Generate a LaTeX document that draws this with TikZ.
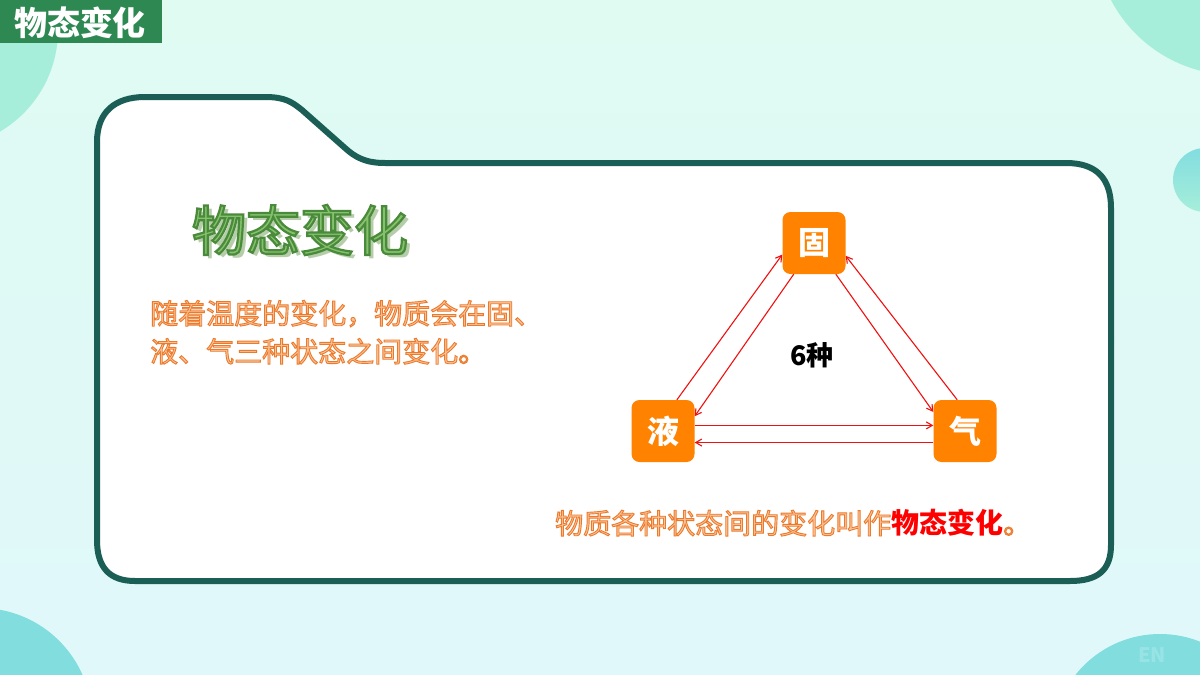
\documentclass[tikz,border=0pt]{standalone}
\usepackage{fontspec}
\setmainfont{Noto Sans CJK SC}
\usepackage{tikz}
\usetikzlibrary{arrows.meta}

\definecolor{bgtop}{HTML}{DFFBF2}
\definecolor{bgbot}{HTML}{E0F8FA}
\definecolor{bubblemint}{HTML}{A6EEDA}
\definecolor{bubbleteal}{HTML}{82DDDF}
\definecolor{cardline}{HTML}{1B5E55}
\definecolor{badgegreen}{HTML}{2E8852}
\definecolor{titlefill}{HTML}{86C26E}
\definecolor{titleshadow}{HTML}{B5CDA8}
\definecolor{orangefill}{HTML}{F8C49A}
\definecolor{stateorange}{HTML}{FF8200}
\definecolor{flowred}{HTML}{F01010}

% outlined text: fill colour from xcolor, stroke colour and width as raw pdf
\newcommand{\outlined}[4]{%
  \textcolor{#1}{\special{pdf:literal direct #2 RG #3 w 2 Tr}#4\special{pdf:literal direct 0 Tr}}}

\tikzset{
  statebox/.style={fill=stateorange, rounded corners=8pt, minimum width=63pt,
    minimum height=62pt, inner sep=0pt, text=white,
    font=\fontsize{32}{32}\selectfont\bfseries},
  flow/.style={->, draw=flowred, line width=1.1pt},
  plaintext/.style={inner sep=0pt, font=\fontsize{28}{38}\selectfont}
}

\begin{document}
\begin{tikzpicture}[x=1pt, y=-1pt, >={Straight Barb[length=6pt,width=7pt]}]

    % ==========================================
    % PAGE AND BACKGROUND
    % ==========================================
    \useasboundingbox (0,0) rectangle (1200,675);
    \shade[top color=bgtop, bottom color=bgbot] (0,0) rectangle (1200,675);

    \begin{scope}
    \clip (0,0) rectangle (1200,675);
    % Corner bubbles
    \fill[bubblemint] (-60,30) circle (118);
    \fill[bubblemint] (1235,-65) circle (140);
    \shade[top color=bubbleteal, bottom color=bubblemint] (1205,180) circle (32);
    \fill[bubbleteal] (-20,720) circle (112);
    \fill[bubbleteal] (1160,742) circle (108);
    \end{scope}
    \node[text=white, opacity=0.18, font=\fontsize{20}{20}\selectfont\bfseries]
      (en) at (1152,655) {EN};

    % Heading badge
    \fill[badgegreen] (0,0) rectangle (162,43);
    \node[text=white, font=\fontsize{33}{33}\selectfont\bfseries] (badge) at (80,23) {物态变化};

    % ==========================================
    % FOLDER CARD
    % ==========================================
    \draw[cardline, line width=6pt, fill=white]
      (97,540) -- (97,142) .. controls (97,112) and (115,97) .. (145,97)
      -- (265,97) .. controls (285,97) and (292,102) .. (302,110)
      -- (345,148) .. controls (355,157) and (365,163) .. (385,163)
      -- (1066,163) .. controls (1096,163) and (1111,178) .. (1111,208)
      -- (1111,545) .. controls (1111,570) and (1098,581) .. (1070,581)
      -- (135,581) .. controls (110,581) and (97,568) .. (97,540) -- cycle;

    % Big title, outlined, with a soft shadow
    \node[plaintext, text=titleshadow, font=\fontsize{54}{54}\selectfont]
      (titleshade) at (304,234) {物态变化};
    \node[plaintext, font=\fontsize{54}{54}\selectfont] (title) at (300,230)
      {\outlined{titlefill}{0.29 0.54 0.23}{2.2}{物态变化}};

    % Intro text
    \node[plaintext, align=left, anchor=north west] (intro) at (150,300)
      {\outlined{orangefill}{0.93 0.48 0.17}{0.9}{随着温度的变化，物质会在固、}\\
       \outlined{orangefill}{0.93 0.48 0.17}{0.9}{液、气三种状态之间变化。}};

    % ==========================================
    % STATE TRIANGLE
    % ==========================================
    \node[statebox] (gu) at (814,243) {固};
    \node[statebox] (ye) at (663,431) {液};
    \node[statebox] (qi) at (965,431) {气};

    \node[plaintext, font=\fontsize{27}{27}\selectfont\bfseries] (kinds) at (812,355) {6种};

    % Two arrows on each side
    \draw[flow] (ye.66)  -- (gu.200);
    \draw[flow] (gu.237) -- (ye.25);
    \draw[flow] (gu.305) -- (qi.149);
    \draw[flow] (qi.104) -- (gu.338);
    \draw[flow] (ye.10)  -- (qi.170);
    \draw[flow] (qi.200) -- (ye.340);

    % Closing sentence
    \node[plaintext, anchor=west] (summary) at (555,523)
      {\outlined{orangefill}{0.93 0.48 0.17}{0.9}{物质各种状态间的变化叫作}%
       \textcolor{red}{\bfseries 物态变化}%
       \outlined{orangefill}{0.93 0.48 0.17}{0.9}{。}};

\end{tikzpicture}
\end{document}
